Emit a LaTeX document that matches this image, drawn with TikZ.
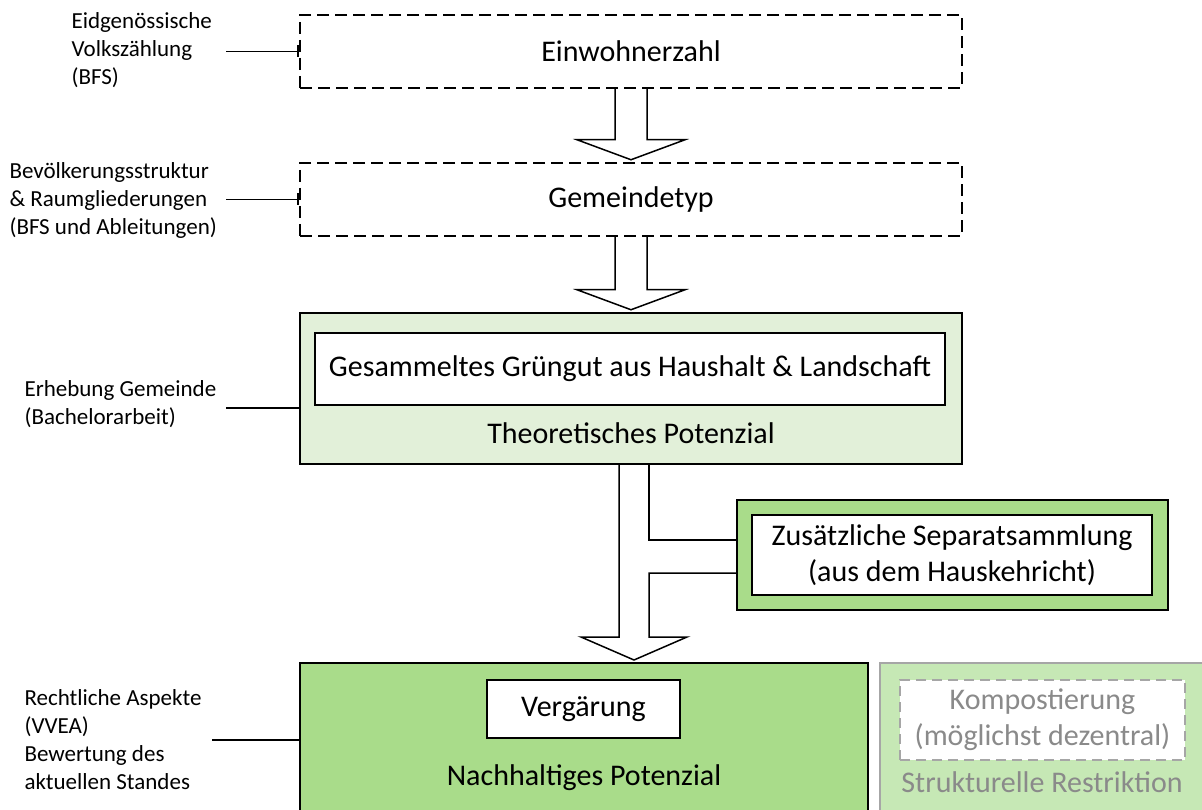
\documentclass[tikz,border=0pt]{standalone}
\usepackage{fontspec}
\setmainfont{Carlito}
\usetikzlibrary{arrows.meta,calc}
\definecolor{hellgruen}{HTML}{E2F0D9}
\definecolor{mittelgruen}{HTML}{A9DC8A}
\definecolor{blassgruen}{HTML}{C6E8B5}
\definecolor{grau}{HTML}{A6A6A6}
\definecolor{grautext}{HTML}{8A8A8A}
\tikzset{
  stufe/.style={draw=black, line width=2.5pt, dash pattern=on 12pt off 6pt,
    minimum width=662pt, minimum height=73pt, font=\fontsize{30}{36}\selectfont},
  rahmen/.style={draw=black, line width=2.5pt, inner sep=0pt},
  kasten/.style={draw=black, line width=2.5pt, fill=white, align=center,
    font=\fontsize{30}{36}\selectfont},
  titel/.style={font=\fontsize{30}{36}\selectfont},
  quelle/.style={align=left, anchor=west, font=\fontsize{23}{28}\selectfont},
  hinweis/.style={line width=1.5pt},
  pfeil/.style={line width=1.5pt, line join=miter}
}
\begin{document}
\begin{tikzpicture}[x=1pt, y=-1pt]
\clip (0,0) rectangle (1202,810);
% Stufen
\node[stufe] (einw) at (631,51.5) {Einwohnerzahl};
\node[stufe] (gem) at (631,199.5) {Gemeindetyp};
\node[rahmen, fill=hellgruen, minimum width=662pt, minimum height=151pt] (theo) at (631,388.5) {};
\node[kasten, minimum width=630pt, minimum height=72pt] (gruen) at (630,369) {Gesammeltes Grüngut aus Haushalt \& Landschaft};
\node[titel] (theotxt) at (631,433) {Theoretisches Potenzial};
\node[rahmen, fill=mittelgruen, minimum width=431pt, minimum height=110pt] (sep) at (952.5,555) {};
\node[kasten, minimum width=400pt, minimum height=80pt] (septxt) at (952,555) {Zusätzliche Separatsammlung\\(aus dem Hauskehricht)};
\node[rahmen, fill=mittelgruen, minimum width=568pt, minimum height=167pt] (nach) at (584,746.5) {};
\node[kasten, minimum width=193pt, minimum height=58pt] (verg) at (583.5,709) {Vergärung};
\node[titel] (nachtxt) at (584,778) {Nachhaltiges Potenzial};
\node[rahmen, draw=grau, fill=blassgruen, minimum width=335pt, minimum height=167pt] (restr) at (1047.5,746.5) {};
\node[kasten, draw=grau, dash pattern=on 10pt off 6pt, text=grautext, minimum width=285pt, minimum height=80pt] (komp) at (1042.5,720) {Kompostierung\\(möglichst dezentral)};
\node[titel, text=grautext] (restrtxt) at (1042,782) {Strukturelle Restriktion};

% Quellen links
\node[quelle] (q1) at (68,50) {Eidgenössische\\Volkszählung\\(BFS)};
\node[quelle] (q2) at (6,200) {Bevölkerungsstruktur\\\& Raumgliederungen\\(BFS und Ableitungen)};
\node[quelle] (q3) at (21,404) {Erhebung Gemeinde\\(Bachelorarbeit)};
\node[quelle] (q4) at (21,740) {Rechtliche Aspekte\\(VVEA)\\Bewertung des\\aktuellen Standes};
\coordinate (a1) at (226,51.5);
\coordinate (a2) at (226,199.5);
\coordinate (a3) at (226,408);
\coordinate (a4) at (212,740);
\draw[hinweis, -{Bar[width=12pt]}] (a1) -- (einw.west);
\draw[hinweis, -{Bar[width=12pt]}] (a2) -- (gem.west);
\draw[hinweis] (a3) -- (a3 -| theo.west);
\draw[hinweis] (a4) -- (a4 -| nach.west);

% Blockpfeile
\foreach \oben/\unten in {einw/gem, gem/theo}
  \draw[pfeil] ($(\oben.south)+(-16,0)$) -- ($(\unten.north)+(-16,-22)$)
    -- ($(\unten.north)+(-54,-22)$) -- ($(\unten.north)+(0,-2)$)
    -- ($(\unten.north)+(54,-22)$) -- ($(\unten.north)+(16,-22)$)
    -- ($(\oben.south)+(16,0)$);
\coordinate (start) at (634,464);
\coordinate (spitze) at (634,660);
\draw[pfeil] ($(start)+(-15,0)$) -- ($(spitze)+(-15,-23)$) -- ($(spitze)+(-53,-23)$)
  -- (spitze) -- ($(spitze)+(53,-23)$) -- ($(spitze)+(15,-23)$)
  |- ($(sep.west)+(0,18)$);
\draw[pfeil] ($(start)+(15,0)$) |- ($(sep.west)+(0,-15)$);
\end{tikzpicture}
\end{document}
